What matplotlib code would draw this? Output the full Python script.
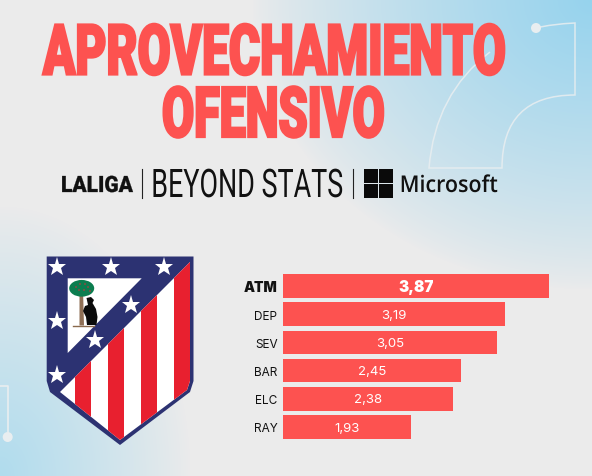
#!/usr/bin/env python3
"""Aprovechamiento ofensivo - LaLiga Beyond Stats bar graphic."""

import matplotlib
matplotlib.use('Agg')
import matplotlib.pyplot as plt
import matplotlib.patheffects as pe
from matplotlib.patches import Polygon, Rectangle, Ellipse, Circle, PathPatch
from matplotlib.path import Path
from matplotlib.transforms import Affine2D
import numpy as np

W, H = 592, 477

# ── Data ───────────────────────────────────────────────────────────────────
teams = ['ATM', 'DEP', 'SEV', 'BAR', 'ELC', 'RAY']
value_labels = ['3,87', '3,19', '3,05', '2,45', '2,38', '1,93']
# the bars in the graphic are not quite proportional to their printed labels,
# so these are read off the bar lengths
bar_lengths = [3.87, 3.23, 3.11, 2.59, 2.47, 1.86]

# ── Colors ─────────────────────────────────────────────────────────────────
CORAL = '#fd5250'
NAVY = '#2c3272'
RED = '#e8202f'
LINE = '#e9eef0'
INK = '#111111'


class TallText(pe.AbstractPathEffect):
    """Stretch text vertically from its baseline (no condensed fonts installed)."""

    def __init__(self, base_y, sy, stroke=0):
        super().__init__()
        self.base_y = base_y
        self.sy = sy
        self.stroke = stroke

    def draw_path(self, renderer, gc, tpath, affine, rgbFace=None):
        t = affine + Affine2D().translate(0, -self.base_y).scale(1, self.sy).translate(0, self.base_y)
        gc0 = renderer.new_gc()
        gc0.copy_properties(gc)
        gc0.set_linewidth(self.stroke)
        gc0.set_foreground(rgbFace)
        gc0.set_joinstyle('miter')
        renderer.draw_path(gc0, tpath, t, rgbFace)
        gc0.restore()


fig = plt.figure(figsize=(W / 100, H / 100), dpi=100)

# ── Background ─────────────────────────────────────────────────────────────
bg = fig.add_axes([0, 0, 1, 1])
bg.set_xlim(0, W)
bg.set_ylim(H, 0)
bg.axis('off')

yy, xx = np.mgrid[0:H, 0:W]
grey = np.array([235, 235, 235]) / 255
blue = np.array([150, 211, 238]) / 255
pale = np.array([176, 220, 238]) / 255
top_right = np.clip(1 - np.hypot((xx - 592) / 340, (yy - 0) / 290), 0, 1) ** 0.8
bot_left = np.clip(1 - np.hypot((xx - 0) / 190, (yy - 477) / 270), 0, 1) ** 0.9
img = grey[None, None, :] * np.ones((H, W, 3))
img = img * (1 - top_right[..., None]) + blue * top_right[..., None]
img = img * (1 - bot_left[..., None]) + pale * bot_left[..., None]
bg.imshow(img, extent=(0, W, H, 0), aspect='auto', zorder=0)

# thin white decoration lines
top_verts = [(536, 29), (552, 25), (575, 24), (575, 96), (502, 96), (502, 169),
             (429, 169), (435, 95), (490, 53)]
top_codes = [Path.MOVETO, Path.CURVE3, Path.CURVE3, Path.LINETO, Path.CURVE3, Path.CURVE3,
             Path.LINETO, Path.CURVE3, Path.CURVE3]
bg.add_patch(PathPatch(Path(top_verts, top_codes), fill=False, ec=LINE, lw=1.1, alpha=0.85, zorder=1))
bg.add_patch(Circle((536, 29), 5, fc=LINE, ec='none', zorder=1))
bg.plot([0, 7.7, 7.7], [387, 387, 437], color=LINE, lw=1.2, zorder=1)
bg.add_patch(Circle((7.7, 438), 5, fc=LINE, ec='none', zorder=1))


def fitted_text(s, left, right, baseline, cap_px, cap_em, stroke=0, **kw):
    """Place text so it spans left..right and its capitals are cap_px tall."""
    t = bg.text((left + right) / 2, baseline, s, ha='center', va='baseline', fontsize=20, zorder=3, **kw)
    width = t.get_window_extent(fig.canvas.get_renderer()).width
    size = 20 * (right - left) / width
    t.set_fontsize(size)
    sy = cap_px / (cap_em * size * 100 / 72)
    t.set_path_effects([TallText(H - baseline, sy, stroke)])
    return t


# ── Title ──────────────────────────────────────────────────────────────────
fitted_text('APROVECHAMIENTO', 43, 506, 75.5, 50, 0.711, stroke=1.6,
            family='Roboto', weight='black', color=CORAL)
fitted_text('OFENSIVO', 162, 385, 138, 50, 0.711, stroke=1.6,
            family='Roboto', weight='black', color=CORAL)

# ── Sponsor strip ──────────────────────────────────────────────────────────
fitted_text('LALIGA', 61, 133, 193, 16, 0.711, stroke=0.2, family='Roboto', weight='black', color=INK)
fitted_text('BEYOND STATS', 151, 343, 198, 28, 0.711, family='Roboto', color=INK)
fitted_text('Microsoft', 400, 498, 193, 16.5, 0.714, family='Open Sans', weight='semibold', color=INK)
for sep_x in (141.5, 353):
    bg.plot([sep_x, sep_x], [170, 199], color='#222222', lw=0.8, zorder=3)
for sx, sy in [(363.5, 170), (378.5, 170), (363.5, 185), (378.5, 185)]:
    bg.add_patch(Rectangle((sx, sy), 14, 14, fc='#0a0a0a', ec='none', zorder=3))

# ── Crest ──────────────────────────────────────────────────────────────────
shield = [(46.7, 257.5), (193.5, 257.5), (193.5, 382), (190, 393), (120, 446), (50, 393), (46.7, 382)]
bg.add_patch(Polygon(shield, closed=True, fc=NAVY, ec='none', zorder=2))

lower = Polygon([(190, 263), (190, 382), (187, 391), (120, 441), (60, 393)], closed=True,
                fc='white', ec='none', zorder=3)
bg.add_patch(lower)
for sx in (75, 108, 140.7, 173.7):
    stripe = Rectangle((sx, 255), 16.3, 195, fc=RED, ec='none', zorder=4)
    bg.add_patch(stripe)
    stripe.set_clip_path(lower)

bg.add_patch(Polygon([(67.7, 279.3), (141.7, 279.3), (67.7, 354)], closed=True, fc='white', ec='none', zorder=3))
for sx, sy in [(57, 268.3), (110.7, 268.3), (164.3, 268.3), (57, 322), (130.7, 305.7), (94.7, 341), (57, 376)]:
    bg.plot(sx, sy, marker='*', ms=14, mfc='white', mec='white', mew=0, zorder=5)

bg.plot([72.5, 93.5], [326.7, 326.7], color='#8a6a4d', lw=1, zorder=4)
bg.add_patch(Polygon([(79.5, 290), (83, 290), (84, 326.5), (79.5, 326.5)], closed=True,
                     fc='#8f6f55', ec='none', zorder=4))
bg.add_patch(Ellipse((81.7, 289.3), 25, 16.7, fc='#0c7d4f', ec='none', zorder=5))
for dx, dy in [(76, 288), (80, 285), (85, 285), (88, 288), (79, 291), (84, 291), (90, 292)]:
    bg.add_patch(Circle((dx, dy), 0.8, fc='#c8323c', ec='none', zorder=6))
bear = [(86.5, 299), (91, 298), (94, 301), (92.5, 304), (96, 310), (97.5, 318), (96.5, 326), (87, 326),
        (86, 318), (83, 312), (85, 307), (88, 306)]
bg.add_patch(Polygon(bear, closed=True, fc='#0b0b0b', ec='none', zorder=6))

# ── Bars ───────────────────────────────────────────────────────────────────
# pixel box of the chart: x 283-549, row pitch 28.2 px starting at y 287
pitch = 28.2
y0_px = 287 - pitch / 2
ax = fig.add_axes([283 / W, 1 - (y0_px + pitch * len(teams)) / H, 266 / W, pitch * len(teams) / H])
ax.patch.set_alpha(0)
y = np.arange(len(teams))
ax.barh(y, bar_lengths, height=0.84, color=CORAL, edgecolor='none')
ax.set_xlim(0, bar_lengths[0])
ax.set_ylim(len(teams) - 0.5, -0.5)
ax.set_yticks(y)
ax.set_yticklabels(teams, family='Inter', fontsize=8.5, color=INK)
ax.set_xticks([])
ax.tick_params(axis='y', length=0, pad=4)
for side in ax.spines.values():
    side.set_visible(False)

first = ax.get_yticklabels()[0]
first.set_fontweight('black')
first.set_fontsize(10)

for i, (length, label) in enumerate(zip(bar_lengths, value_labels)):
    ax.text(length / 2, i + 0.02, label, ha='center', va='center', color='white', family='Inter',
            fontsize=11 if i == 0 else 9.5, fontweight='black' if i == 0 else 'normal')

plt.savefig('out.png', dpi=100)
plt.close()
